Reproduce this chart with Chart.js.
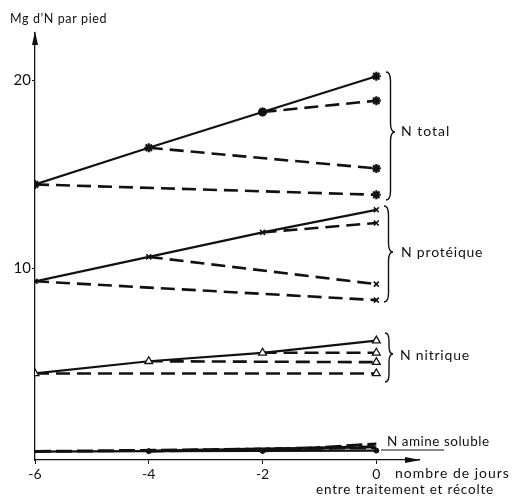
<!DOCTYPE html>
<html>
<head>
<meta charset="utf-8">
<script src="https://cdn.jsdelivr.net/npm/chart.js@4"></script>
<style>
  body { margin: 0; background: #fff; }
  #wrap { width: 512px; height: 500px; }
</style>
</head>
<body>
<div id="wrap"><canvas id="c" width="512" height="500"></canvas></div>
<script>
// days before harvest
const days = [-6, -4, -2, 0];
const xTicks = [-6, -4, -2, 0];
const yTicks = [10, 20];

// main (solid) series, one value per day
const totalMain = [14.45, 16.4, 18.3, 20.2];
const protMain = [9.3, 10.6, 11.9, 13.1];
const nitrMain = [4.4, 5.05, 5.5, 6.15];
const amineMain = [0.25, 0.27, 0.28, 0.3];

// dashed branches: value reached at day 0 when starting from day -6, -4, -2
const totalEnd = [13.9, 15.3, 18.9];
const protEnd = [8.3, 9.15, 12.4];
const nitrEnd = [4.4, 5.0, 5.5];
const amineEnd = [0.45, 0.5, 0.65];

const FONT = 'Lato, "DejaVu Sans", sans-serif';

function group(main, ends, style) {
  const sets = [];
  sets.push({
    data: days.map((d, i) => ({ x: d, y: main[i] })),
    borderColor: '#111',
    borderWidth: style.solidWidth || 2.2,
    pointStyle: style.mainPoints || style.point,
    pointRadius: style.mainRadius || style.radius,
    pointBorderWidth: style.pbw,
    pointBorderColor: '#111',
    pointBackgroundColor: style.fill,
    fill: false,
    tension: 0
  });
  ends.forEach((v, i) => {
    sets.push({
      data: [{ x: days[i], y: main[i] }, { x: 0, y: v }],
      borderColor: '#111',
      borderWidth: style.dashWidth || 2.6,
      borderDash: style.dash || [14, 7],
      pointStyle: style.point,
      pointRadius: [0, style.radius],
      pointBorderWidth: style.pbw,
      pointBorderColor: '#111',
      pointBackgroundColor: style.fill,
      fill: false,
      tension: 0
    });
  });
  return sets;
}

const datasets = [
  ...group(totalMain, totalEnd, {
    point: 'star', radius: 4.5, pbw: 2.2, fill: '#111',
    mainPoints: ['star', 'star', 'circle', 'star'], mainRadius: [4.5, 4.5, 3.5, 4.5]
  }),
  ...group(protMain, protEnd, { point: 'crossRot', radius: 3.5, pbw: 1.6, fill: '#111' }),
  ...group(nitrMain, nitrEnd, { point: 'triangle', radius: 4.5, pbw: 1.3, fill: '#fff' }),
  ...group(amineMain, amineEnd, {
    point: 'circle', radius: 0, pbw: 1, fill: '#111', dashWidth: 3, dash: [16, 5],
    mainRadius: [0, 2.5, 2.5, 2.5]
  })
];

function brace(ctx, x, top, bot, mid, w) {
  ctx.beginPath();
  ctx.moveTo(x, top);
  ctx.quadraticCurveTo(x + w / 2, top, x + w / 2, top + w);
  ctx.lineTo(x + w / 2, mid - w);
  ctx.quadraticCurveTo(x + w / 2, mid, x + w, mid);
  ctx.quadraticCurveTo(x + w / 2, mid, x + w / 2, mid + w);
  ctx.lineTo(x + w / 2, bot - w);
  ctx.quadraticCurveTo(x + w / 2, bot, x, bot);
  ctx.stroke();
}

function label(ctx, text, x, y, size, spacing) {
  ctx.font = size + 'px ' + FONT;
  ctx.letterSpacing = spacing + 'px';
  ctx.fillText(text, x, y);
}

const decorations = {
  id: 'decorations',
  afterDraw(chart) {
    const ctx = chart.ctx;
    const a = chart.chartArea;
    ctx.save();
    ctx.fillStyle = '#111';
    ctx.strokeStyle = '#111';

    // axis arrows
    ctx.beginPath();
    ctx.moveTo(a.left, a.top - 2);
    ctx.lineTo(a.left - 3, a.top + 12);
    ctx.lineTo(a.left + 3, a.top + 12);
    ctx.closePath();
    ctx.fill();
    ctx.beginPath();
    ctx.moveTo(a.right + 2, a.bottom);
    ctx.lineTo(a.right - 14, a.bottom - 3);
    ctx.lineTo(a.right - 14, a.bottom + 3);
    ctx.closePath();
    ctx.fill();

    ctx.textBaseline = 'middle';
    ctx.textAlign = 'left';
    label(ctx, 'Mg d\u2019N par pied', 10, 19, 12.5, 0.6);

    // braces
    ctx.lineWidth = 1.4;
    brace(ctx, 386, 72, 200, 132, 9);
    brace(ctx, 384, 206, 302, 252, 9);
    brace(ctx, 385, 333, 382, 354, 8);

    label(ctx, 'N total', 401, 131, 14, 1);
    label(ctx, 'N prot\u00e9ique', 401, 252, 14, 0.8);
    label(ctx, 'N nitrique', 400, 355, 14, 0.8);
    label(ctx, 'N amine soluble', 387, 442, 13.5, 0.5);
    ctx.lineWidth = 1;
    ctx.beginPath();
    ctx.moveTo(381, 450);
    ctx.lineTo(444, 450);
    ctx.stroke();

    label(ctx, 'nombre de jours', 395, 473, 14, 1);
    label(ctx, 'entre traitement et r\u00e9colte', 316, 490, 13.5, 0.8);
    ctx.restore();
  }
};

new Chart(document.getElementById('c'), {
  type: 'line',
  data: { datasets },
  options: {
    responsive: false,
    animation: false,
    layout: { padding: { left: 0, top: 33, right: 93, bottom: 0 } },
    plugins: { legend: { display: false }, tooltip: { enabled: false } },
    scales: {
      x: {
        type: 'linear',
        min: -6,
        max: 0.75,
        afterFit: s => { s.height = 40; },
        afterBuildTicks: s => { s.ticks = xTicks.map(v => ({ value: v })); },
        grid: { display: true, drawOnChartArea: false, drawTicks: true, tickLength: 4, color: '#111' },
        border: { display: true, color: '#111', width: 1.3 },
        ticks: { color: '#111', font: { size: 14, family: FONT }, padding: 2 }
      },
      y: {
        type: 'linear',
        min: -0.2,
        max: 22.5,
        afterFit: s => { s.width = 35; },
        afterBuildTicks: s => { s.ticks = yTicks.map(v => ({ value: v })); },
        grid: { display: true, drawOnChartArea: false, drawTicks: true, tickLength: 3, color: '#111' },
        border: { display: true, color: '#111', width: 1.3 },
        ticks: { color: '#111', font: { size: 15, family: FONT }, padding: 1 }
      }
    }
  },
  plugins: [decorations]
});
</script>
</body>
</html>
